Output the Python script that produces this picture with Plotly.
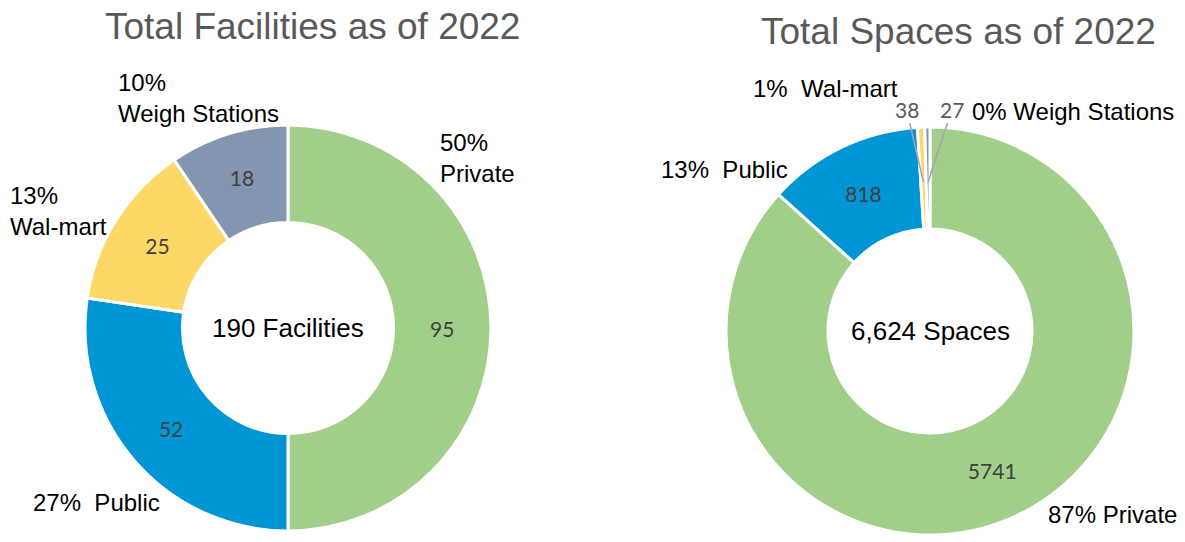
import math
import plotly.graph_objects as go

W, H = 1185, 542

# ---- data ----
categories = ["Private", "Public", "Wal-mart", "Weigh Stations"]
facilities = [95, 52, 25, 18]
spaces = [5741, 818, 38, 27]
facility_pct_labels = ["50%", "27%", "13%", "10%"]
space_pct_labels = ["87%", "13%", "1%", "0%"]
facility_total_text = "190 Facilities"
space_total_text = "6,624 Spaces"
titles = ["Total Facilities as of 2022", "Total Spaces as of 2022"]

colors = ["#A1CE89", "#0096D6", "#FDD866", "#8496AF"]
LABEL_FONT = "Liberation Sans, Arial, sans-serif"
VALUE_FONT = "Lato, Open Sans, sans-serif"

# pie geometry (pixels)
L_cx, L_cy, L_R = 288, 542 - 328, 203
R_cx, R_cy, R_R = 930, 542 - 331, 204


def dom(cx, cy, r):
    return dict(x=[(cx - r) / W, (cx + r) / W], y=[(cy - r) / H, (cy + r) / H])


fig = go.Figure()

fig.add_trace(go.Pie(
    labels=categories, values=facilities, sort=False, direction="clockwise",
    rotation=0, hole=0.52, domain=dom(L_cx, L_cy, L_R),
    marker=dict(colors=colors, line=dict(color="white", width=3)),
    textinfo="value", textposition="inside", insidetextorientation="horizontal",
    textfont=dict(family=VALUE_FONT, size=21, color="#404040"),
    showlegend=False, hoverinfo="label+value",
))

fig.add_trace(go.Pie(
    labels=categories, values=spaces, sort=False, direction="clockwise",
    rotation=0, hole=0.5, domain=dom(R_cx, R_cy, R_R),
    marker=dict(colors=colors, line=dict(color="white", width=3)),
    textinfo="value", textposition=["inside", "inside", "none", "none"],
    insidetextorientation="horizontal",
    textfont=dict(family=VALUE_FONT, size=21, color="#404040"),
    showlegend=False, hoverinfo="label+value",
))

ann = []
# titles
ann.append(dict(text=titles[0], x=312 / W, y=1 - 27 / H, xref="paper", yref="paper",
                showarrow=False, xanchor="center", yanchor="middle",
                font=dict(family=LABEL_FONT, size=37, color="#595959")))
ann.append(dict(text=titles[1], x=958 / W, y=1 - 31 / H, xref="paper", yref="paper",
                showarrow=False, xanchor="center", yanchor="middle",
                font=dict(family=LABEL_FONT, size=37, color="#595959")))

# centre texts
ann.append(dict(text=facility_total_text, x=L_cx / W, y=L_cy / H, xref="paper", yref="paper",
                showarrow=False, xanchor="center", yanchor="middle",
                font=dict(family=LABEL_FONT, size=26, color="black")))
ann.append(dict(text=space_total_text, x=R_cx / W, y=R_cy / H, xref="paper", yref="paper",
                showarrow=False, xanchor="center", yanchor="middle",
                font=dict(family=LABEL_FONT, size=26, color="black")))

lab_font = dict(family=LABEL_FONT, size=24, color="black")


def label(text, x, y_top):
    ann.append(dict(text=text, x=x / W, y=1 - y_top / H, xref="paper", yref="paper",
                    showarrow=False, xanchor="left", yanchor="middle", align="left",
                    font=lab_font))


# left chart category labels
label(f"{facility_pct_labels[0]}<br>{categories[0]}", 438, 158)
label(f"{facility_pct_labels[1]}  {categories[1]}", 31, 502)
label(f"{facility_pct_labels[2]}<br>{categories[2]}", 8, 211)
label(f"{facility_pct_labels[3]}<br>{categories[3]}", 116, 98)

# right chart category labels
label(f"{space_pct_labels[0]} {categories[0]}", 1046, 514)
label(f"{space_pct_labels[1]}  {categories[1]}", 659, 169)
label(f"{space_pct_labels[2]}  {categories[2]}", 751, 88)
label(f"{space_pct_labels[3]} {categories[3]}", 970, 112)

# leader-line value labels for the tiny slices of the right chart
total = sum(spaces)
offsets = {2: (-17, -73), 3: (24, -73)}
cum = 0
for i, v in enumerate(spaces):
    if i in offsets:
        f = (cum + v / 2) / total
        th = 2 * math.pi * f
        r = 0.73 * R_R
        px = R_cx + r * math.sin(th)
        py = R_cy + r * math.cos(th)
        ax, ay = offsets[i]
        ann.append(dict(text=str(v), x=px / W, y=py / H, xref="paper", yref="paper",
                        showarrow=True, arrowhead=0, arrowwidth=1.5, arrowcolor="#A6A6A6",
                        ax=ax, ay=ay, standoff=0,
                        font=dict(family=VALUE_FONT, size=21, color="#595959")))
    cum += v

fig.update_layout(
    width=W, height=H, margin=dict(l=0, r=0, t=0, b=0),
    paper_bgcolor="white", plot_bgcolor="white",
    annotations=ann,
)

fig.write_html("out.html")
